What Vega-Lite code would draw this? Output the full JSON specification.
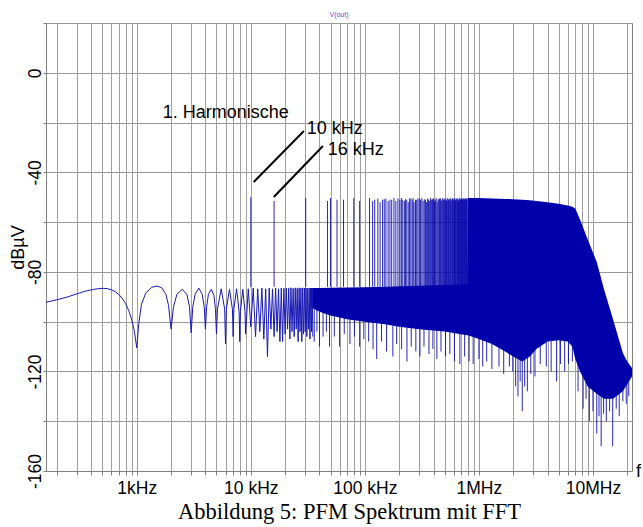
{
  "$schema": "https://vega.github.io/schema/vega-lite/v6.json",
  "autosize": "none",
  "width": 586,
  "height": 448,
  "padding": {"left": 46, "top": 23, "right": 11, "bottom": 56},
  "background": "white",
  "title": {"text": "V(out)", "fontSize": 7, "color": "#4a4ae0", "font": "Liberation Sans", "fontWeight": "normal", "offset": 5},
  "config": {"view": {"stroke": "#808080"}},
  "datasets": {
    "lobes": [
      {"f":160,"db":-92.2},{"f":200,"db":-91.2},{"f":250,"db":-90},{"f":300,"db":-88.8},{"f":350,"db":-87.8},{"f":400,"db":-87.2},{"f":450,"db":-86.8},{"f":500,"db":-86.6},{"f":550,"db":-86.7},{"f":600,"db":-87.2},{"f":650,"db":-88},{"f":700,"db":-89.2},{"f":750,"db":-90.8},{"f":800,"db":-92.8},{"f":850,"db":-95.5},{"f":900,"db":-99},{"f":950,"db":-103.5},{"f":1000,"db":-110.5},
      {"f":1040,"db":-101},{"f":1100,"db":-93},{"f":1200,"db":-88.5},{"f":1350,"db":-86.2},{"f":1500,"db":-85.7},{"f":1650,"db":-86.3},{"f":1800,"db":-89},{"f":1900,"db":-93.5},{"f":2000,"db":-103},
      {"f":2100,"db":-94},{"f":2250,"db":-89},{"f":2500,"db":-87},{"f":2750,"db":-89},{"f":2900,"db":-94},{"f":3000,"db":-104.5},
      {"f":3100,"db":-94},{"f":3250,"db":-89},{"f":3500,"db":-86.5},{"f":3750,"db":-89},{"f":3900,"db":-94},{"f":4000,"db":-103},
      {"f":4100,"db":-94},{"f":4250,"db":-89},{"f":4500,"db":-87},{"f":4750,"db":-89.5},{"f":4900,"db":-95},{"f":5000,"db":-105},
      {"f":5100,"db":-95},{"f":5500,"db":-86.8},{"f":5900,"db":-95},{"f":6000,"db":-109},{"f":6100,"db":-95},{"f":6500,"db":-87},{"f":6900,"db":-95},{"f":7000,"db":-106},{"f":7100,"db":-95},{"f":7500,"db":-86.8},{"f":7900,"db":-96},{"f":8000,"db":-108},{"f":8100,"db":-96},{"f":8500,"db":-87},{"f":8900,"db":-96},{"f":9000,"db":-105},{"f":9500,"db":-86.8},
      {"f":10000,"db":-102},{"f":10500,"db":-86.5},{"f":11000,"db":-106},{"f":11500,"db":-86.8},{"f":12000,"db":-104},{"f":12500,"db":-86.5},{"f":13000,"db":-107},{"f":13500,"db":-86.8},{"f":14000,"db":-114},{"f":14500,"db":-86.5},{"f":15000,"db":-103},{"f":15500,"db":-86.8},{"f":16000,"db":-106},{"f":16500,"db":-86.5},{"f":17000,"db":-104},{"f":17500,"db":-86.8},{"f":18000,"db":-108},{"f":18500,"db":-86.5},{"f":19000,"db":-108},{"f":19500,"db":-86.6},{"f":20000,"db":-105},{"f":20500,"db":-86.5},{"f":21000,"db":-103},{"f":21500,"db":-86.6},{"f":22000,"db":-107},{"f":22500,"db":-86.4},{"f":23000,"db":-104},{"f":23500,"db":-86.6},{"f":24000,"db":-106},{"f":24500,"db":-86.4},{"f":25000,"db":-103},{"f":25500,"db":-86.6},{"f":26000,"db":-108},{"f":26500,"db":-86.4},{"f":27000,"db":-104},{"f":27500,"db":-86.5},{"f":28000,"db":-108},{"f":28500,"db":-86.4},{"f":29000,"db":-105},{"f":29500,"db":-86.5},{"f":30000,"db":-104},{"f":30500,"db":-86.5},{"f":31000,"db":-106},{"f":31500,"db":-86.5},{"f":32000,"db":-103},{"f":32500,"db":-86.5},{"f":33000,"db":-107},{"f":33500,"db":-86.5},{"f":34000,"db":-104},{"f":34500,"db":-86.5},{"f":35000,"db":-106}
    ],
    "band": [
      {"f":33000,"db":-86.5,"db2":-94},{"f":40000,"db":-86.5,"db2":-96},{"f":50000,"db":-86.4,"db2":-97.5},{"f":70000,"db":-86.3,"db2":-99},{"f":100000,"db":-86.2,"db2":-100},{"f":150000,"db":-86,"db2":-101},{"f":200000,"db":-85.8,"db2":-102},{"f":300000,"db":-85.6,"db2":-103},{"f":500000,"db":-85.3,"db2":-104},{"f":790000,"db":-85,"db2":-105.5},
      {"f":800000,"db":-50.3,"db2":-105.5},{"f":1000000,"db":-50.3,"db2":-107},{"f":1300000,"db":-50.5,"db2":-109},{"f":1700000,"db":-50.7,"db2":-112},{"f":2000000,"db":-50.8,"db2":-114},{"f":2400000,"db":-51,"db2":-116},{"f":2800000,"db":-51.2,"db2":-114},{"f":3200000,"db":-51.5,"db2":-111},{"f":4000000,"db":-52,"db2":-108},{"f":5000000,"db":-52.6,"db2":-107.5},{"f":6000000,"db":-53.3,"db2":-108},{"f":6600000,"db":-53.8,"db2":-110},{"f":7000000,"db":-54.5,"db2":-115},{"f":7700000,"db":-59,"db2":-120},{"f":9000000,"db":-67,"db2":-126},{"f":10800000,"db":-76,"db2":-129},{"f":12500000,"db":-87,"db2":-131},{"f":15000000,"db":-99,"db2":-131},{"f":18300000,"db":-112.6,"db2":-128},{"f":20000000,"db":-116,"db2":-125},{"f":22000000,"db":-118.6,"db2":-122}
    ],
    "rules": [
      {"f":10000,"db":-50,"db2":-86},{"f":16000,"db":-51.5,"db2":-86},{"f":30300,"db":-50.3,"db2":-86},{"f":47000,"db":-51.5,"db2":-86},{"f":50000,"db":-50.3,"db2":-86},{"f":57000,"db":-51,"db2":-86},{"f":65000,"db":-51,"db2":-86},{"f":80000,"db":-50.3,"db2":-86},{"f":90000,"db":-51.5,"db2":-86},
      {"f":110000,"db":-50.3,"db2":-86},{"f":117000,"db":-51.5,"db2":-86},{"f":122000,"db":-51,"db2":-86},{"f":130000,"db":-50.5,"db2":-86},{"f":136000,"db":-52,"db2":-86},{"f":143000,"db":-51,"db2":-86},{"f":148000,"db":-50.8,"db2":-86},{"f":153000,"db":-50.5,"db2":-86},{"f":160000,"db":-51.5,"db2":-86},{"f":166000,"db":-51,"db2":-86},{"f":172000,"db":-51,"db2":-86},{"f":180000,"db":-50.3,"db2":-86},{"f":187000,"db":-51.5,"db2":-86},{"f":195000,"db":-50.5,"db2":-86},
      {"f":203000,"db":-51,"db2":-86},{"f":209000,"db":-50.3,"db2":-86},{"f":215000,"db":-51,"db2":-86},{"f":222000,"db":-51.5,"db2":-86},{"f":227000,"db":-50.8,"db2":-86},{"f":233000,"db":-51,"db2":-86},{"f":240000,"db":-52,"db2":-86},{"f":246000,"db":-50.5,"db2":-86},{"f":253000,"db":-50.5,"db2":-86},{"f":260000,"db":-51,"db2":-86},{"f":265000,"db":-50.3,"db2":-86},{"f":270000,"db":-52,"db2":-86},{"f":278000,"db":-51,"db2":-86},{"f":285000,"db":-51,"db2":-86},{"f":292000,"db":-50.5,"db2":-86},{"f":300000,"db":-50.5,"db2":-86},
      {"f":308000,"db":-51,"db2":-86},{"f":316000,"db":-50.3,"db2":-86},{"f":324000,"db":-51.5,"db2":-86},{"f":332000,"db":-50.8,"db2":-86},{"f":340000,"db":-51,"db2":-86},{"f":348000,"db":-52,"db2":-86},{"f":355000,"db":-50.5,"db2":-86},{"f":362000,"db":-51,"db2":-86},{"f":370000,"db":-51.5,"db2":-86},{"f":377000,"db":-50.3,"db2":-86},{"f":385000,"db":-51,"db2":-86},{"f":392000,"db":-50.8,"db2":-86},{"f":400000,"db":-50.5,"db2":-86},{"f":408000,"db":-51.5,"db2":-86},{"f":415000,"db":-51,"db2":-86},{"f":422000,"db":-50.3,"db2":-86},{"f":430000,"db":-52,"db2":-86},{"f":438000,"db":-50.8,"db2":-86},{"f":445000,"db":-51,"db2":-86},{"f":452000,"db":-50.5,"db2":-86},{"f":460000,"db":-50.5,"db2":-86},{"f":468000,"db":-51.5,"db2":-86},{"f":475000,"db":-51,"db2":-86},{"f":482000,"db":-50.3,"db2":-86},{"f":490000,"db":-51,"db2":-86},{"f":498000,"db":-50.8,"db2":-86},{"f":505000,"db":-50.5,"db2":-86},{"f":512000,"db":-51.5,"db2":-86},{"f":520000,"db":-51,"db2":-86},{"f":528000,"db":-50.3,"db2":-86},{"f":535000,"db":-51.5,"db2":-86},{"f":542000,"db":-50.8,"db2":-86},{"f":550000,"db":-51,"db2":-86},{"f":558000,"db":-50.5,"db2":-86},{"f":565000,"db":-50.5,"db2":-86},{"f":572000,"db":-51.5,"db2":-86},{"f":580000,"db":-51,"db2":-86},{"f":588000,"db":-50.3,"db2":-86},{"f":595000,"db":-51,"db2":-86},{"f":602000,"db":-50.8,"db2":-86},{"f":610000,"db":-50.5,"db2":-86},{"f":618000,"db":-51.5,"db2":-86},{"f":625000,"db":-51,"db2":-86},{"f":632000,"db":-50.3,"db2":-86},{"f":640000,"db":-51,"db2":-86},{"f":648000,"db":-50.8,"db2":-86},{"f":655000,"db":-50.5,"db2":-86},{"f":662000,"db":-51.5,"db2":-86},{"f":670000,"db":-51,"db2":-86},{"f":678000,"db":-50.3,"db2":-86},{"f":685000,"db":-51,"db2":-86},{"f":692000,"db":-50.8,"db2":-86},{"f":700000,"db":-50.5,"db2":-86},{"f":708000,"db":-51,"db2":-86},{"f":715000,"db":-50.5,"db2":-86},{"f":722000,"db":-51,"db2":-86},{"f":730000,"db":-50.5,"db2":-86},{"f":738000,"db":-50.8,"db2":-86},{"f":745000,"db":-51,"db2":-86},{"f":752000,"db":-50.5,"db2":-86},{"f":760000,"db":-50.5,"db2":-86},{"f":768000,"db":-50.8,"db2":-86},{"f":775000,"db":-51,"db2":-86},{"f":782000,"db":-50.5,"db2":-86},{"f":790000,"db":-50.5,"db2":-86},
      {"f":36000,"db":-95,"db2":-108},{"f":38000,"db":-95,"db2":-104},{"f":40000,"db":-96,"db2":-110},{"f":43000,"db":-96,"db2":-106},{"f":46000,"db":-96,"db2":-104},{"f":49000,"db":-96,"db2":-110},{"f":54000,"db":-97,"db2":-106},{"f":60000,"db":-97,"db2":-110},{"f":66000,"db":-97,"db2":-105},{"f":74000,"db":-98,"db2":-109},{"f":81000,"db":-98,"db2":-106},{"f":90000,"db":-98,"db2":-110},{"f":98000,"db":-98,"db2":-107},{"f":108000,"db":-99,"db2":-108},{"f":118000,"db":-99,"db2":-111},{"f":127000,"db":-99,"db2":-115},{"f":140000,"db":-99,"db2":-108},{"f":155000,"db":-99,"db2":-112},{"f":176000,"db":-100,"db2":-114},{"f":190000,"db":-100,"db2":-109},{"f":210000,"db":-100,"db2":-111},{"f":234000,"db":-100,"db2":-116},{"f":255000,"db":-101,"db2":-110},{"f":280000,"db":-101,"db2":-112},{"f":304000,"db":-101,"db2":-114},{"f":330000,"db":-101,"db2":-110},{"f":365000,"db":-102,"db2":-113},{"f":395000,"db":-102,"db2":-111},{"f":428000,"db":-102,"db2":-115},{"f":465000,"db":-102,"db2":-112},{"f":510000,"db":-102,"db2":-114},{"f":556000,"db":-102,"db2":-113},{"f":610000,"db":-103,"db2":-116},{"f":681000,"db":-103,"db2":-117},{"f":750000,"db":-103,"db2":-114},{"f":820000,"db":-104,"db2":-116},{"f":891000,"db":-104,"db2":-117},{"f":1000000,"db":-105,"db2":-115},{"f":1080000,"db":-106,"db2":-118},{"f":1170000,"db":-106,"db2":-116},{"f":1300000,"db":-107,"db2":-119},{"f":1500000,"db":-108,"db2":-118},{"f":1650000,"db":-109,"db2":-121},{"f":1850000,"db":-110,"db2":-118},{"f":1980000,"db":-110,"db2":-120},{"f":2100000,"db":-112,"db2":-126},{"f":2200000,"db":-112,"db2":-130},{"f":2300000,"db":-112,"db2":-124},{"f":2400000,"db":-112,"db2":-136},{"f":2520000,"db":-112,"db2":-126},{"f":2660000,"db":-112,"db2":-128},{"f":2850000,"db":-110,"db2":-121},{"f":3100000,"db":-108,"db2":-122},{"f":3450000,"db":-106,"db2":-117},{"f":3900000,"db":-105,"db2":-118},{"f":4300000,"db":-105,"db2":-120},{"f":4800000,"db":-105,"db2":-124},{"f":5200000,"db":-105,"db2":-117},{"f":5650000,"db":-105,"db2":-120},{"f":6100000,"db":-105,"db2":-117},{"f":6600000,"db":-106,"db2":-116},{"f":7400000,"db":-116,"db2":-128},{"f":8200000,"db":-118,"db2":-135},{"f":8700000,"db":-120,"db2":-131},{"f":9300000,"db":-122,"db2":-140},{"f":10000000,"db":-124,"db2":-136},{"f":10800000,"db":-125,"db2":-145},{"f":11300000,"db":-126,"db2":-138},{"f":11800000,"db":-126,"db2":-150},{"f":12400000,"db":-126,"db2":-137},{"f":13100000,"db":-126,"db2":-140},{"f":14000000,"db":-126,"db2":-136},{"f":14900000,"db":-126,"db2":-150},{"f":16000000,"db":-126,"db2":-135},{"f":17000000,"db":-125,"db2":-138},{"f":18300000,"db":-124,"db2":-132},{"f":19600000,"db":-122,"db2":-133},{"f":20600000,"db":-121,"db2":-130}
    ],
    "leaders": [
      {"id":"a","f":10600,"db":-43.9},{"id":"a","f":29200,"db":-23.4},
      {"id":"b","f":15900,"db":-49.9},{"id":"b","f":42900,"db":-29.4}
    ],
    "notes": [
      {"f":1690,"db":-18.2,"text":"1. Harmonische"},
      {"f":31000,"db":-24.6,"text":"10 kHz"},
      {"f":47300,"db":-33,"text":"16 kHz"},
      {"f":23800000,"db":-162.4,"text":"f"}
    ]
  },
  "encoding": {
    "x": {
      "field": "f", "type": "quantitative",
      "scale": {"type": "log", "domain": [160, 22000000], "nice": false},
      "axis": {
        "values": [200,300,400,500,600,700,800,900,1000,2000,3000,4000,5000,6000,7000,8000,9000,10000,20000,30000,40000,50000,60000,70000,80000,90000,100000,200000,300000,400000,500000,600000,700000,800000,900000,1000000,2000000,3000000,4000000,5000000,6000000,7000000,8000000,9000000,10000000,20000000],
        "labelExpr": "datum.value==1000?'1kHz':datum.value==10000?'10 kHz':datum.value==100000?'100 kHz':datum.value==1000000?'1MHz':datum.value==10000000?'10MHz':''",
        "grid": true, "gridColor": "#a0a0a0", "gridWidth": 1,
        "tickColor": "#808080", "tickSize": 4, "domainColor": "#808080",
        "labelFont": "Liberation Sans", "labelFontSize": 17.5, "labelColor": "black", "labelPadding": 4,
        "labelFlush": false, "labelOverlap": false,
        "title": "Abbildung 5: PFM Spektrum mit FFT",
        "titleFont": "Liberation Serif", "titleFontSize": 22.5, "titleFontWeight": "normal", "titleColor": "black",
        "titleX": 303, "titleY": 47, "titleBaseline": "alphabetic", "titleAlign": "center"
      }
    },
    "y": {
      "field": "db", "type": "quantitative",
      "scale": {"domain": [-160, 20], "nice": false, "zero": false},
      "axis": {
        "values": [-160,-140,-120,-100,-80,-60,-40,-20,0,20],
        "labelExpr": "(datum.value % 40 == 0 && datum.value <= 0) ? toString(datum.value) : ''",
        "grid": true, "gridColor": "#999999", "gridWidth": 1,
        "tickColor": "#808080", "tickSize": 3, "domainColor": "#808080",
        "labelFont": "Liberation Sans", "labelFontSize": 17.5, "labelColor": "black",
        "labelAngle": 270, "labelAlign": "center", "labelBaseline": "alphabetic", "labelPadding": 3,
        "title": "dBµV", "titleFont": "Liberation Sans", "titleFontSize": 18, "titleFontWeight": "normal", "titleColor": "black",
        "titleAngle": 270, "titleX": -23, "titleY": 224, "titleAlign": "center", "titleBaseline": "alphabetic"
      }
    }
  },
  "layer": [
    {
      "data": {"name": "band"},
      "mark": {"type": "area", "color": "#0000aa", "clip": true},
      "encoding": {"y2": {"field": "db2"}}
    },
    {
      "data": {"name": "rules"},
      "mark": {"type": "rule", "color": "#0000aa", "strokeWidth": 1, "opacity": 0.85, "clip": true},
      "encoding": {"y2": {"field": "db2"}}
    },
    {
      "data": {"name": "lobes"},
      "mark": {"type": "line", "color": "#1818b4", "strokeWidth": 1, "clip": true},
      "encoding": {}
    },
    {
      "data": {"name": "leaders"},
      "mark": {"type": "line", "color": "black", "strokeWidth": 2},
      "encoding": {"detail": {"field": "id"}}
    },
    {
      "data": {"name": "notes"},
      "mark": {"type": "text", "align": "left", "baseline": "alphabetic", "font": "Liberation Sans", "fontSize": 18, "color": "black"},
      "encoding": {"text": {"field": "text"}}
    }
  ]
}
